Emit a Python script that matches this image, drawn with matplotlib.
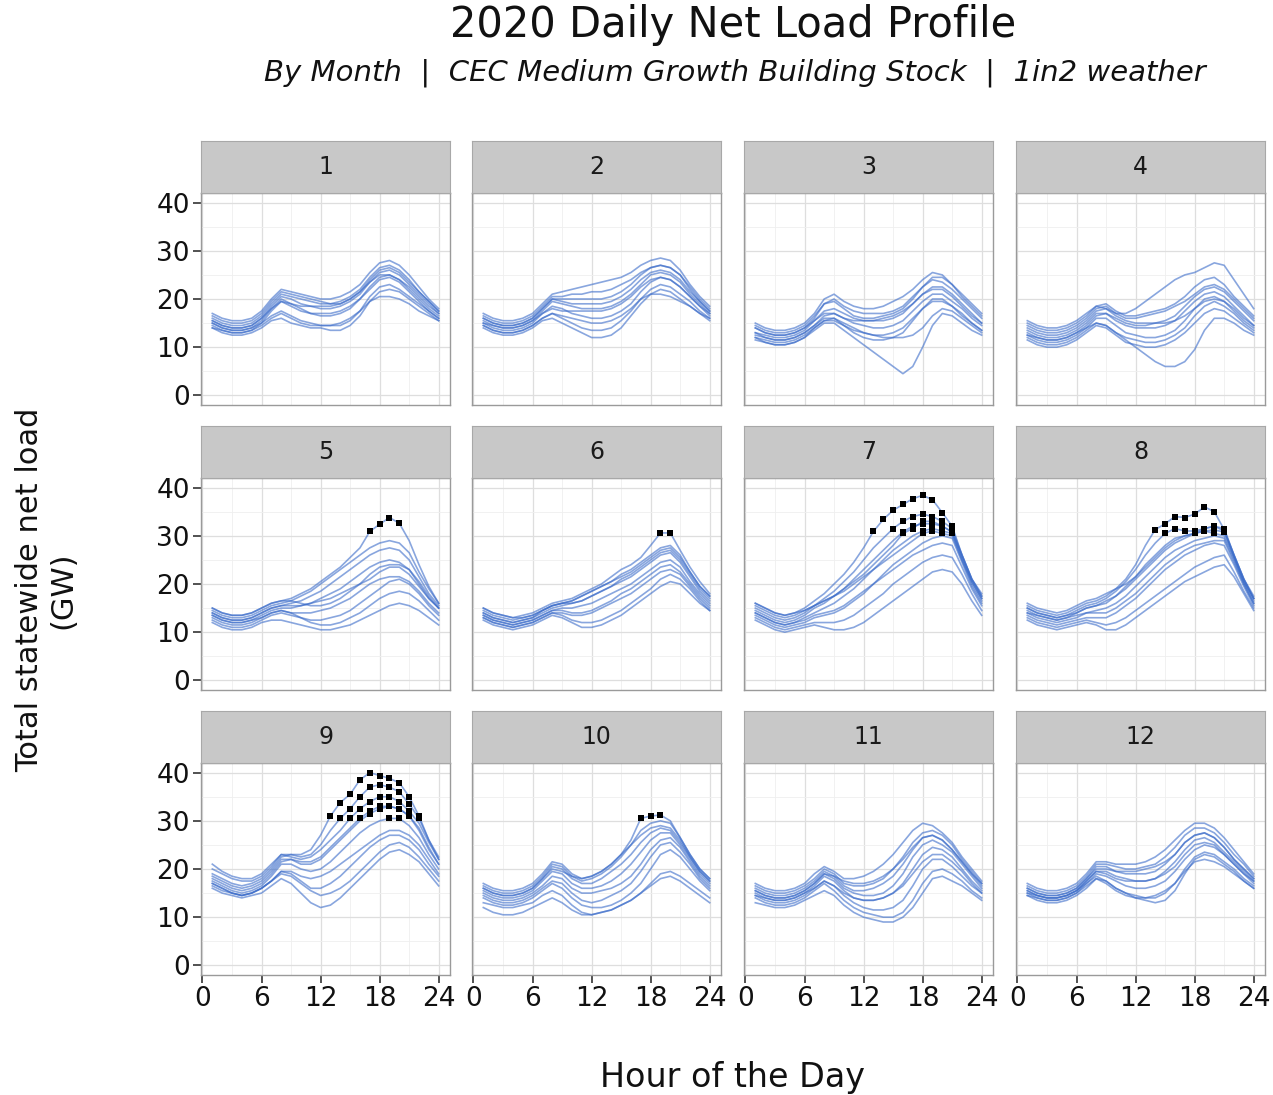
import matplotlib.pyplot as plt
import numpy as np

plt.rcParams['font.family'] = ['DejaVu Sans']

# hourly net load (GW) for a sample of days
hours = np.arange(1, 25)

m01 = [
    [17, 16, 15.5, 15.5, 16, 17.5, 20, 22, 21.5, 21, 20.5, 20, 20, 20.5, 21.5, 23, 25.5, 27.5, 28, 27, 25, 22.5, 20, 18],
    [16, 15, 14.5, 14.5, 15, 16.5, 19, 21, 20.5, 20, 19.5, 19, 19, 19.5, 20.5, 22, 24.5, 26.5, 27, 26, 24, 21.5, 19.5, 17.5],
    [15.5, 14.5, 14, 14, 14.5, 16, 18.5, 20.5, 20, 19, 18.5, 18, 18, 18.5, 19.5, 21, 23.5, 25.5, 26, 25, 23, 21, 19, 17],
    [15, 14, 13.5, 13.5, 14, 15.5, 18, 20, 19, 18, 17, 16.5, 16.5, 17, 18, 20, 22.5, 24.5, 25, 24, 22, 20, 18, 16.5],
    [14.5, 13.5, 13, 13, 13.5, 15, 17.5, 19.5, 18.5, 17.5, 17, 17, 17, 17.5, 18.5, 20, 22, 24, 24.5, 23.5, 21.5, 19.5, 17.5, 16],
    [15, 14, 13.5, 13.5, 14, 15, 16.5, 17.5, 16.5, 15.5, 15, 14.5, 14.5, 14.5, 15.5, 17.5, 20.5, 22.5, 23, 22, 20.5, 19, 17.5, 16],
    [14, 13, 12.5, 12.5, 13, 14, 15.5, 16, 15, 14.5, 14, 14, 13.5, 13.5, 14.5, 16.5, 19.5, 21.5, 22, 21.5, 20, 18.5, 17, 15.5],
    [16.5, 15.5, 15, 15, 15.5, 17, 19.5, 21.5, 21, 20.5, 20, 19.5, 19, 19, 20, 21.5, 24, 26, 26.5, 25.5, 23.5, 21.5, 19.5, 17.5],
    [14, 13.5, 13, 13, 13.5, 14.5, 16, 17, 16, 15, 14.5, 14.5, 14.5, 15, 16, 17.5, 19.5, 20.5, 20.5, 20, 19, 17.5, 16.5, 15.5],
    [15.5, 14.5, 14, 14, 14.5, 16, 18, 19.5, 19, 18.5, 18.5, 18.5, 18.5, 19, 20, 21.5, 23.5, 25, 25, 24, 22.5, 20.5, 18.5, 17],
]
m02 = [
    [17, 16, 15.5, 15.5, 16, 17, 19, 21, 21.5, 22, 22.5, 23, 23.5, 24, 24.5, 25.5, 27, 28, 28.5, 28, 26, 23, 20.5, 18.5],
    [16, 15, 14.5, 14.5, 15, 16, 18, 20, 20, 20, 20, 20, 20, 20.5, 21.5, 23, 25, 26.5, 27, 26.5, 25, 22.5, 20, 18],
    [15.5, 14.5, 14, 14, 14.5, 15.5, 17.5, 19.5, 19, 18.5, 18, 18, 18, 18.5, 19.5, 21, 23, 25, 25.5, 25, 23.5, 21, 19, 17],
    [15, 14, 13.5, 13.5, 14, 15, 17, 18.5, 18, 17, 16.5, 16, 16, 16.5, 17.5, 19, 21.5, 23.5, 24.5, 24, 22.5, 20.5, 18.5, 16.5],
    [14.5, 13.5, 13, 13, 13.5, 14.5, 16, 17, 16, 15, 14, 13.5, 13.5, 14, 15.5, 17.5, 20, 22, 23, 22.5, 21, 19.5, 17.5, 16],
    [14, 13, 12.5, 12.5, 13, 14, 15.5, 16, 15, 14, 13, 12, 12, 12.5, 14, 16.5, 19, 21, 22, 21.5, 20, 18.5, 17, 15.5],
    [16.5, 15.5, 15, 15, 15.5, 16.5, 18.5, 20.5, 20.5, 21, 21, 21.5, 21.5, 22, 23, 24, 25.5, 26.5, 27, 26.5, 25, 22, 19.5, 17.5],
    [15, 14.5, 14, 14, 14.5, 15.5, 17, 18, 17.5, 17.5, 17.5, 17.5, 17.5, 18, 19, 20.5, 22.5, 24, 24.5, 24, 22.5, 20.5, 18.5, 17],
    [14.5, 13.5, 13, 13, 13.5, 14.5, 16, 17, 16.5, 16, 15.5, 15, 15, 15.5, 16.5, 18, 20, 21, 21, 20.5, 19.5, 18.5, 17, 16],
    [16, 15, 14.5, 14.5, 15, 16, 18, 20, 19.5, 19, 19, 19, 19, 19.5, 20.5, 22, 24, 25.5, 26, 25.5, 24, 21.5, 19.5, 17.5],
]
m03 = [
    [15, 14, 13.5, 13.5, 14, 15, 17, 20, 21, 19.5, 18.5, 18, 18, 18.5, 19.5, 20.5, 22, 24, 25.5, 25, 23, 20.5, 18.5, 16.5],
    [14, 13, 12.5, 12.5, 13, 14, 16, 19, 20, 18.5, 17.5, 17, 17, 17, 17.5, 18.5, 20.5, 22.5, 24, 23.5, 22, 20, 18, 16],
    [13, 12.5, 12, 12, 12.5, 13.5, 15.5, 17.5, 18, 17, 16, 15.5, 15.5, 15.5, 16, 17, 19, 21, 22.5, 22.5, 21, 19, 17, 15],
    [12.5, 12, 11.5, 11.5, 12, 13, 14.5, 16.5, 17, 16, 15, 14.5, 14, 14, 14.5, 15.5, 17.5, 19.5, 21, 21, 19.5, 18, 16, 14.5],
    [12, 11, 10.5, 10.5, 11, 12, 14, 15.5, 16, 14.5, 13, 12, 11.5, 11.5, 12, 13, 15.5, 18, 20, 20, 18.5, 17, 15, 13.5],
    [11.5, 11, 10.5, 10.5, 11, 12, 13.5, 15, 15, 13.5, 12, 10.5, 9, 7.5, 6, 4.5, 6, 10, 14.5, 17, 16.5, 15, 13.5, 12.5],
    [14.5, 13.5, 13, 13, 13.5, 14.5, 16.5, 19, 19.5, 18, 16.5, 16, 16, 16.5, 17, 18, 20, 22.5, 24.5, 24.5, 23, 21, 19, 17],
    [13, 12, 11.5, 11.5, 12, 13, 14.5, 16, 16, 15, 14, 13, 12.5, 12, 12, 12, 12.5, 14, 16.5, 18, 17.5, 16, 14.5, 13],
    [14, 13, 12.5, 12.5, 13, 14, 15.5, 17, 17, 16, 15.5, 15.5, 15.5, 16, 16.5, 17.5, 19, 21, 22, 22, 20.5, 18.5, 16.5, 15],
    [12, 11.5, 11, 11, 11.5, 12.5, 14, 15.5, 15.5, 14.5, 13.5, 13, 12.5, 12.5, 13, 14, 16, 18, 19.5, 19.5, 18.5, 16.5, 15, 13.5],
]
m04 = [
    [15.5, 14.5, 14, 14, 14.5, 15.5, 17, 18.5, 18, 17, 17, 18, 19.5, 21, 22.5, 24, 25, 25.5, 26.5, 27.5, 27, 24, 21, 18],
    [15, 14, 13.5, 13.5, 14, 15, 16.5, 18.5, 19, 17.5, 16.5, 16.5, 17, 17.5, 18, 19, 20.5, 22.5, 24, 24.5, 23, 20.5, 18.5, 16.5],
    [14, 13, 12.5, 12.5, 13, 14, 15.5, 17.5, 18, 16.5, 15.5, 15, 15, 15, 15.5, 16.5, 18.5, 20.5, 22, 22.5, 21.5, 19.5, 17.5, 15.5],
    [13, 12, 11.5, 11.5, 12, 13, 14.5, 16.5, 17, 15.5, 14.5, 14, 14, 14, 14.5, 15.5, 17.5, 19.5, 21, 21.5, 20.5, 18.5, 16.5, 14.5],
    [12.5, 11.5, 11, 11, 11.5, 12.5, 14, 16, 16, 14.5, 13, 12.5, 12, 12, 12.5, 13.5, 15.5, 18, 20, 20.5, 19.5, 17.5, 15.5, 14],
    [12, 11, 10.5, 10.5, 11, 12, 13.5, 15, 14.5, 13, 11.5, 10, 8.5, 7, 6, 6, 7, 9.5, 13.5, 16, 16, 15, 13.5, 12.5],
    [11.5, 10.5, 10, 10, 10.5, 11.5, 13, 14.5, 14, 12.5, 11, 10.5, 10, 10, 10.5, 11.5, 13, 15, 17, 18, 17.5, 16, 14.5, 13],
    [14.5, 13.5, 13, 13, 13.5, 14.5, 16, 18, 18.5, 17, 16, 16, 16.5, 17, 17.5, 18.5, 19.5, 21, 22.5, 23, 22, 20, 18, 16],
    [13.5, 12.5, 12, 12, 12.5, 13.5, 15, 17, 17, 16, 15, 14.5, 14.5, 15, 15, 15.5, 16.5, 18, 19.5, 20, 19.5, 18, 16, 14.5],
    [12.5, 12, 11.5, 11.5, 12, 13, 14, 15, 14.5, 13, 12, 11.5, 11, 11, 11.5, 12.5, 14, 16.5, 18.5, 19.5, 18.5, 17, 15, 13.5],
]
m05 = [
    [15, 14, 13.5, 13.5, 14, 15, 16, 16.5, 17, 18, 19, 20.5, 22, 23.5, 25.5, 27.5, 30.9, 32.4, 33.8, 32.6, 29, 24, 19.5, 16],
    [14.5, 13.5, 13, 13, 13.5, 14.5, 15.5, 16, 16.5, 17.5, 18.5, 20, 21.5, 23, 24.5, 26, 27.5, 28.5, 29, 28.5, 26.5, 22.5, 19, 16],
    [14, 13, 12.5, 12.5, 13, 14, 15, 15.5, 16, 16.5, 17.5, 18.5, 20, 21.5, 23, 24.5, 26, 27, 27.5, 27, 25, 21.5, 18, 15.5],
    [13.5, 12.5, 12, 12, 12.5, 13.5, 14.5, 15, 15, 15.5, 16, 17, 18, 19, 20.5, 22, 23.5, 24.5, 25, 24.5, 23, 20, 17, 15],
    [13, 12, 11.5, 11.5, 12, 13, 14, 14.5, 14, 14, 14, 14.5, 15, 16, 17, 18.5, 20, 21, 21.5, 21.5, 20.5, 18.5, 16, 14],
    [12.5, 11.5, 11, 11, 11.5, 12.5, 13.5, 14, 13.5, 13, 12.5, 12.5, 13, 13.5, 14.5, 16, 17.5, 19, 20.5, 21, 20, 18, 15.5, 13.5],
    [12, 11, 10.5, 10.5, 11, 12, 12.5, 12.5, 12, 11.5, 11, 10.5, 10.5, 11, 11.5, 12.5, 13.5, 14.5, 15.5, 16, 15.5, 14.5, 13, 11.5],
    [15, 14, 13.5, 13.5, 14, 15, 16, 16.5, 16.5, 16, 15.5, 15.5, 16, 17, 18.5, 20, 22, 23.5, 24, 24, 23, 20.5, 17.5, 15],
    [13.5, 12.5, 12, 12, 12.5, 13, 14, 14.5, 14, 13, 12, 11.5, 11.5, 12, 13, 14, 15.5, 17, 18, 18.5, 18, 16.5, 14.5, 12.5],
    [14, 13, 12.5, 12.5, 13, 14, 15, 15.5, 15.5, 15.5, 16, 16.5, 17, 18, 19, 20, 21, 22.5, 23.5, 23.5, 22, 19.5, 17, 15],
]
m06 = [
    [15, 14, 13.5, 13, 13.5, 14, 15, 16, 16.5, 17, 18, 19, 20, 21.5, 23, 24, 25.5, 28, 30.6, 30.6, 27, 23.5, 20.5, 18],
    [14.5, 13.5, 13, 12.5, 13, 13.5, 14.5, 15.5, 16, 16.5, 17.5, 18.5, 19.5, 20.5, 22, 23, 24.5, 26, 27.5, 28, 26, 22.5, 19.5, 17.5],
    [14, 13, 12.5, 12, 12.5, 13, 14, 15, 15.5, 16, 16.5, 17.5, 18.5, 19.5, 20.5, 21.5, 23, 24.5, 26, 26.5, 24.5, 21.5, 18.5, 16.5],
    [13.5, 12.5, 12, 11.5, 12, 12.5, 13.5, 14.5, 15, 15, 15.5, 16, 17, 18, 19, 20, 21.5, 23, 24.5, 25, 23.5, 20.5, 18, 16],
    [13, 12, 11.5, 11, 11.5, 12, 13, 14, 14, 13.5, 13.5, 14, 15, 16, 17, 18, 19.5, 21, 22.5, 23, 22, 19.5, 17, 15],
    [12.5, 11.5, 11, 10.5, 11, 11.5, 12.5, 13.5, 13, 12, 11, 11, 11.5, 12.5, 13.5, 15, 16.5, 18, 19.5, 20.5, 20, 18, 16, 14.5],
    [14, 13, 12.5, 12, 12.5, 13, 14.5, 15.5, 16, 16, 16.5, 17.5, 18.5, 19.5, 21, 22, 23.5, 25, 26.5, 27, 25, 22, 19, 17],
    [13, 12, 11.5, 11, 11.5, 12, 13, 14, 13.5, 12.5, 12, 12, 12.5, 13.5, 14.5, 16, 17.5, 19, 21, 22, 21, 19, 16.5, 14.5],
    [15, 14, 13.5, 13, 13, 13.5, 14.5, 15.5, 16, 16.5, 17.5, 18.5, 19.5, 20.5, 21.5, 22.5, 24, 25.5, 27, 27.5, 25.5, 22.5, 19.5, 17.5],
    [13.5, 12.5, 12, 11.5, 12, 12.5, 13.5, 14.5, 14.5, 14, 14, 14.5, 15.5, 16.5, 18, 19, 20.5, 22, 23.5, 24, 22.5, 20, 17.5, 15.5],
]
m07 = [
    [16, 15, 14, 13.5, 14, 15, 16.5, 18, 20, 22, 24.5, 27.5, 30.9, 33.4, 35.3, 36.5, 37.7, 38.4, 37.5, 34.8, 32, 26, 21, 18],
    [15, 14, 13, 12.5, 13, 14, 15.5, 17, 18.5, 20.5, 22.5, 25, 27.5, 29.5, 31.5, 33, 34, 34.5, 34, 33, 31.5, 26, 21, 17.5],
    [14.5, 13.5, 12.5, 12, 12.5, 13.5, 15, 16, 17.5, 19, 21, 23, 25, 27, 29, 30.8, 32, 32.5, 32.5, 32, 30.8, 25.5, 20.5, 17],
    [14, 13, 12, 11.5, 12, 13, 14, 15, 16, 17.5, 19, 21, 23, 25, 27, 28.5, 30, 31, 31.5, 31, 30.5, 25, 20, 16.5],
    [13.5, 12.5, 11.5, 11, 11.5, 12, 13, 13.5, 14, 15, 16.5, 18, 20, 22, 24, 25.5, 27, 28.5, 29.5, 30, 29.5, 24.5, 19.5, 16],
    [13, 12, 11, 10.5, 11, 11.5, 12, 12, 12, 12.5, 13.5, 15, 16.5, 18, 20, 21.5, 23, 24.5, 25.5, 26, 25.5, 22, 18, 14.5],
    [12.5, 11.5, 10.5, 10, 10.5, 11, 11.5, 11, 10.5, 10.5, 11, 12, 13.5, 15, 16.5, 18, 19.5, 21, 22.5, 23, 22.5, 20, 16.5, 13.5],
    [15.5, 14.5, 13.5, 13, 13.5, 14.5, 15.5, 16.5, 17.5, 18.5, 20, 21.5, 23, 24.5, 26, 27.5, 29, 30.5, 31, 30.5, 30, 25, 20.5, 17],
    [14, 13, 12, 11.5, 12, 12.5, 13.5, 14, 14.5, 15.5, 17, 18.5, 20, 21.5, 23, 24.5, 26, 27, 28, 28.5, 28, 23.5, 19, 15.5],
    [16, 15, 14, 13.5, 14, 14.5, 15.5, 16.5, 17.5, 19, 20.5, 22, 24, 26, 28, 30.5, 31.5, 33, 33, 32, 30.8, 26, 21, 17.5],
]
m08 = [
    [15.5, 14.5, 14, 13.5, 14, 15, 16, 16.5, 17.5, 19, 21, 24, 28, 31.3, 32.5, 34, 33.8, 34.5, 36, 35, 31.3, 26, 21, 17.5],
    [15, 14, 13.5, 13, 13.5, 14.5, 15.5, 16, 17, 18.5, 20.5, 23, 26, 28.5, 30.5, 31.5, 31, 31, 31.5, 32, 31.5, 26, 21, 17],
    [14.5, 13.5, 13, 12.5, 13, 14, 15, 15.5, 16, 17.5, 19.5, 21.5, 24, 26, 28, 29.5, 30, 30.5, 31, 31.2, 30.8, 25.5, 20.5, 16.5],
    [14, 13, 12.5, 12, 12.5, 13, 14, 14.5, 15, 16, 17.5, 19.5, 21.5, 23.5, 25.5, 27, 28, 29, 29.5, 30, 29.5, 25, 20, 16],
    [13.5, 12.5, 12, 11.5, 12, 12.5, 13, 13, 13, 14, 15.5, 17, 19, 21, 23, 24.5, 26, 27, 28, 28.5, 28, 24, 19.5, 15.5],
    [13, 12, 11.5, 11, 11.5, 12, 12.5, 12, 11.5, 12, 13, 14.5, 16, 17.5, 19, 20.5, 22, 23.5, 24.5, 25.5, 26, 22.5, 18.5, 15],
    [12.5, 11.5, 11, 10.5, 11, 11.5, 12, 11.5, 10.5, 10.5, 11.5, 13, 14.5, 16, 17.5, 19, 20.5, 21.5, 22.5, 23.5, 24, 21.5, 18, 14.5],
    [16, 15, 14.5, 14, 14.5, 15.5, 16.5, 17, 18, 19, 20, 21.5, 23.5, 25.5, 27.5, 29, 30, 30.5, 31, 30.5, 30, 25.5, 20.5, 17],
    [14, 13.5, 13, 12.5, 13, 13.5, 14, 14, 14, 15, 16.5, 18, 20, 22, 24, 25.5, 27, 28, 28.5, 29, 29, 24.5, 20, 16],
    [15, 14, 13.5, 13, 13.5, 14, 15, 15.5, 16.5, 17.5, 19, 21, 23, 25, 27, 28.5, 29.5, 30.5, 31.5, 32, 31, 26, 21, 17],
]
m09 = [
    [19, 18, 17, 16.5, 17, 18, 20, 22.5, 23, 23, 24, 27, 31, 33.8, 35.5, 38.5, 40, 39.4, 38.8, 37.9, 35, 31, 26, 22],
    [20, 19, 18, 17.5, 17.5, 18.5, 20.5, 23, 23, 22.5, 23, 25, 28, 30.5, 32.5, 35, 37, 37.5, 37, 36, 33.5, 30.5, 26, 22.5],
    [21, 19.5, 18.5, 18, 18, 19, 21, 23, 22.5, 22, 22.5, 24, 26, 28, 30.5, 32.5, 34, 35, 35, 34, 32, 29.5, 25.5, 22],
    [18, 17, 16, 15.5, 16, 17, 19, 21.5, 22, 21, 21, 22, 24, 26, 28, 30, 31.5, 32.5, 33, 32.5, 31, 28.5, 24.5, 21],
    [17.5, 16.5, 15.5, 15, 15.5, 16.5, 18.5, 21, 21, 20, 19.5, 20, 21.5, 23.5, 25.5, 27.5, 29, 30, 30.5, 30.5, 29, 26.5, 23, 20],
    [17, 16, 15, 14.5, 15, 16, 17.5, 19.5, 19, 17.5, 16, 16, 17, 18.5, 20.5, 22.5, 24.5, 26, 27, 27, 26, 24, 21, 18.5],
    [16, 15, 14.5, 14, 14.5, 15, 16.5, 18, 17, 15, 13, 12, 12.5, 14, 16, 18, 20, 22, 23.5, 24, 23, 21.5, 19, 16.5],
    [16.5, 15.5, 15, 14.5, 15, 16, 17.5, 19, 18.5, 17, 15.5, 14.5, 15, 16, 17.5, 19.5, 21.5, 23.5, 25, 25.5, 24.5, 22.5, 20, 17.5],
    [18.5, 17.5, 16.5, 16, 16.5, 17.5, 19.5, 22, 22, 21.5, 21.5, 22.5, 24.5, 26.5, 28.5, 30.5, 32, 33, 33, 32.5, 31, 28, 24, 21],
    [17, 16, 15, 14.5, 15, 16, 17.5, 19.5, 19.5, 18.5, 18, 18.5, 19.5, 21, 22.5, 24, 25.5, 27, 28, 28, 27, 25, 22, 19],
]
m10 = [
    [17, 16, 15.5, 15.5, 16, 17, 19, 21.5, 21, 19, 18, 18.5, 19.5, 21, 23, 26, 30.5, 31, 31.2, 30, 26.5, 23, 20, 18],
    [16.5, 15.5, 15, 15, 15.5, 16.5, 18.5, 21, 20.5, 18.5, 17.5, 18, 19, 20.5, 22.5, 25, 28, 29.5, 30, 29.5, 26.5, 23, 20, 18],
    [16, 15, 14.5, 14.5, 15, 16, 18, 20.5, 20, 18, 17, 17, 18, 19.5, 21, 23, 25.5, 27.5, 28.5, 28, 25.5, 22.5, 19.5, 17.5],
    [15.5, 14.5, 14, 14, 14.5, 15.5, 17.5, 19.5, 19, 17, 16, 16, 16.5, 17.5, 19, 21, 23.5, 26, 27.5, 27.5, 25, 22, 19, 17],
    [15, 14, 13.5, 13.5, 14, 15, 16.5, 18.5, 18, 16, 15, 15, 15.5, 16, 17, 18.5, 21, 24, 26, 26.5, 24.5, 21.5, 18.5, 16.5],
    [14.5, 13.5, 13, 13, 13.5, 14.5, 16, 17.5, 17, 15, 13.5, 13, 13.5, 14.5, 15.5, 17, 19.5, 22.5, 25, 25.5, 23.5, 21, 18, 16],
    [14, 13, 12.5, 12.5, 13, 14, 15.5, 17, 16, 14, 12.5, 12, 12, 12.5, 13.5, 15, 17, 20, 23, 24, 22.5, 20, 17.5, 15.5],
    [13, 12.5, 12, 12, 12.5, 13, 14.5, 15.5, 14.5, 12.5, 11, 10.5, 11, 11.5, 12.5, 13.5, 15, 17, 19, 19.5, 18.5, 17, 15.5, 14],
    [12, 11, 10.5, 10.5, 11, 12, 13, 14, 13, 11.5, 10.5, 10.5, 11, 11.5, 12.5, 13.5, 15, 16.5, 18, 18.5, 17.5, 16, 14.5, 13],
    [16, 15, 14.5, 14.5, 15, 16, 18, 20, 19.5, 18.5, 18, 18.5, 19.5, 21, 23, 25, 27, 28.5, 29, 28.5, 26, 22.5, 19.5, 17.5],
]
m11 = [
    [17, 16, 15.5, 15.5, 16, 17, 19, 20.5, 19.5, 18, 18, 18.5, 19.5, 21, 23, 25.5, 28, 29.5, 29, 27.5, 25.5, 22.5, 20, 17.5],
    [16.5, 15.5, 15, 15, 15.5, 16.5, 18, 20, 19, 17, 16.5, 16.5, 17, 18, 20, 22.5, 25.5, 27.5, 28, 27, 25, 22, 19.5, 17],
    [16, 15, 14.5, 14.5, 15, 16, 17.5, 19.5, 18.5, 16.5, 15.5, 15.5, 16, 17, 18.5, 21, 24, 26.5, 27, 26, 24, 21.5, 19, 16.5],
    [15.5, 14.5, 14, 14, 14.5, 15.5, 17, 19, 18, 16, 15, 14.5, 14.5, 15, 16.5, 19, 22.5, 25, 26, 25, 23.5, 21, 18.5, 16],
    [15, 14, 13.5, 13.5, 14, 15, 16.5, 18.5, 17.5, 15.5, 14, 13.5, 13.5, 14, 15, 17, 20, 23, 24.5, 24, 22.5, 20, 17.5, 15.5],
    [14.5, 13.5, 13, 13, 13.5, 14.5, 16, 17.5, 16.5, 14.5, 13, 12, 11.5, 11.5, 12, 13.5, 16.5, 20, 22, 22, 20.5, 18.5, 16.5, 15],
    [14, 13, 12.5, 12.5, 13, 14, 15.5, 17, 15.5, 13.5, 12, 11, 10.5, 10, 10, 11, 13.5, 17, 19.5, 20, 19, 17.5, 15.5, 14],
    [13, 12.5, 12, 12, 12.5, 13.5, 14.5, 15.5, 14.5, 12.5, 11, 10, 9.5, 9, 9, 10, 12, 15, 18, 18.5, 17.5, 16.5, 15, 13.5],
    [15.5, 14.5, 14, 14, 14.5, 15.5, 17, 19, 18.5, 17.5, 17, 17, 17.5, 18.5, 20, 22, 24.5, 26.5, 27, 26, 24, 21.5, 19, 17],
    [14.5, 14, 13.5, 13.5, 14, 15, 16, 17.5, 16.5, 15, 14, 13.5, 13.5, 14, 15, 16.5, 19, 21.5, 23, 23, 21.5, 19.5, 17, 15],
]
m12 = [
    [17, 16, 15.5, 15.5, 16, 17, 19, 21.5, 21.5, 21, 21, 21, 21.5, 22.5, 24, 26, 28, 29.5, 29.5, 28.5, 26.5, 24, 21.5, 19],
    [16.5, 15.5, 15, 15, 15.5, 16.5, 18.5, 21, 21, 20.5, 20, 20, 20.5, 21, 22.5, 24.5, 27, 28.5, 28.5, 27.5, 25.5, 23, 21, 18.5],
    [16, 15, 14.5, 14.5, 15, 16, 18, 20.5, 20.5, 19.5, 19, 19, 19, 19.5, 21, 23, 25.5, 27, 27.5, 26.5, 24.5, 22, 20, 18],
    [15.5, 14.5, 14, 14, 14.5, 15.5, 17.5, 19.5, 19.5, 18.5, 18, 17.5, 17.5, 18, 19.5, 21.5, 24, 26, 26.5, 25.5, 23.5, 21.5, 19.5, 17.5],
    [15, 14, 13.5, 13.5, 14, 15, 17, 19, 18.5, 17.5, 16.5, 16, 16, 16.5, 17.5, 19.5, 22, 24, 25, 24.5, 23, 21, 19, 17],
    [14.5, 13.5, 13, 13, 13.5, 14.5, 16, 18, 17.5, 16, 15, 14.5, 14, 14, 15, 17, 20, 22.5, 23.5, 23, 21.5, 20, 18, 16.5],
    [15, 14.5, 14, 14, 14.5, 15.5, 17, 18.5, 17.5, 16, 15, 14, 13.5, 13, 13.5, 15.5, 19, 22, 23, 22.5, 21, 19.5, 17.5, 16],
    [16, 15, 14.5, 14.5, 15, 16, 18, 20, 20, 19.5, 19.5, 19.5, 20, 20.5, 21.5, 23, 25.5, 27, 27.5, 26.5, 24.5, 22, 20, 18],
    [14.5, 14, 13.5, 13.5, 14, 15, 16.5, 18, 17, 15.5, 14.5, 14, 14, 14.5, 15.5, 17, 19.5, 21.5, 22, 21.5, 20.5, 19, 17.5, 16],
    [15.5, 14.5, 14, 14, 14.5, 15.5, 17.5, 19.5, 19, 18, 17.5, 17.5, 17.5, 18, 19, 20.5, 23, 25, 25.5, 25, 23, 21, 19, 17.5],
]

months = [m01, m02, m03, m04, m05, m06, m07, m08, m09, m10, m11, m12]
month_labels = [str(i) for i in range(1, 13)]
peak_level = 30  # hours above this get a black marker

line_color = '#3a6bc9'

W, H = 1273, 1095
fig = plt.figure(figsize=(W / 100, H / 100), dpi=100)

col_x = [201, 472, 744, 1016]
row_y = [193, 478, 763]
pw, ph, sh = 249, 212, 52

for i, (lab, days) in enumerate(zip(month_labels, months)):
    r, c = divmod(i, 4)
    ax = fig.add_axes([col_x[c] / W, 1 - (row_y[r] + ph) / H, pw / W, ph / H])
    ax.set_facecolor('white')
    for d in days:
        d = np.array(d)
        ax.plot(hours, d, color=line_color, lw=1.2, alpha=0.6, zorder=2)
        hi = d > peak_level
        if hi.any():
            ax.scatter(hours[hi], d[hi], s=14, marker='s', color='black', zorder=3, linewidths=0)

    ax.set_xlim(-0.15, 25.15)
    ax.set_ylim(-2, 42)
    ax.set_xticks([0, 6, 12, 18, 24])
    ax.set_yticks([0, 10, 20, 30, 40])
    ax.set_xticks([3, 9, 15, 21], minor=True)
    ax.set_yticks([5, 15, 25, 35], minor=True)
    ax.grid(which='major', color='#dedede', lw=0.9)
    ax.grid(which='minor', color='#efefef', lw=0.6)
    ax.set_axisbelow(True)
    for s in ax.spines.values():
        s.set_color('#9a9a9a')
        s.set_linewidth(1.0)
    ax.tick_params(which='minor', length=0)
    ax.tick_params(which='major', length=6, width=1.2, color='#333333',
                   labelsize=19, labelcolor='#111111', pad=2)
    if c != 0:
        ax.tick_params(axis='y', left=False, labelleft=False)
    if r != 2:
        ax.tick_params(axis='x', bottom=False, labelbottom=False)

    sax = fig.add_axes([col_x[c] / W, 1 - row_y[r] / H, pw / W, sh / H])
    sax.set_facecolor('#c8c8c8')
    sax.set_xticks([])
    sax.set_yticks([])
    for s in sax.spines.values():
        s.set_color('#a8a8a8')
    sax.text(0.5, 0.5, lab, ha='center', va='center', fontsize=17, color='#1a1a1a',
             transform=sax.transAxes)

fig.text(733 / W, 1 - 25 / H, '2020 Daily Net Load Profile', ha='center', va='center',
         fontsize=30, color='#111111')
fig.text(735 / W, 1 - 73 / H,
         'By Month  |  CEC Medium Growth Building Stock  |  1in2 weather',
         ha='center', va='center', fontsize=21, style='italic', color='#111111')
fig.text(46 / W, 1 - 590 / H, 'Total statewide net load\n(GW)', rotation=90,
         ha='center', va='center', multialignment='center', fontsize=22, color='#111111')
fig.text(733 / W, 1 - 1077 / H, 'Hour of the Day', ha='center', va='center',
         fontsize=24, color='#111111')

fig.savefig('out.png', dpi=100)
